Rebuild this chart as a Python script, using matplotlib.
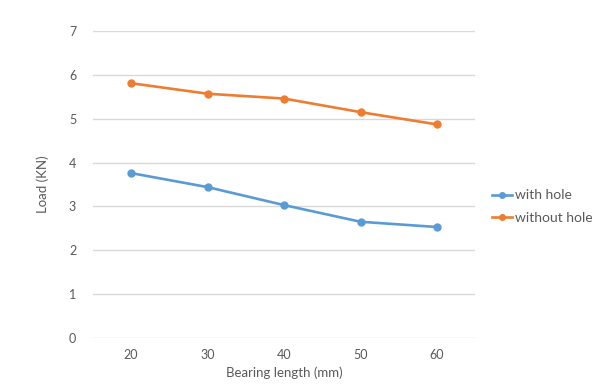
import matplotlib
matplotlib.use("Agg")
import matplotlib.pyplot as plt

categories = ["20", "30", "40", "50", "60"]
with_hole = [3.76, 3.44, 3.03, 2.65, 2.53]
without_hole = [5.81, 5.57, 5.46, 5.15, 4.87]
yticks = [0, 1, 2, 3, 4, 5, 6, 7]

plt.rcParams['font.family'] = ['Lato', 'DejaVu Sans']

fig = plt.figure(figsize=(6.07, 3.88), dpi=100)
ax = fig.add_axes([0.153, 0.129, 0.630, 0.791])

x = list(range(len(categories)))
ax.plot(x, with_hole, color='#5B9BD5', lw=1.9, marker='o', ms=5, label='with hole')
ax.plot(x, without_hole, color='#ED7D31', lw=1.9, marker='o', ms=5, label='without hole')

ax.set_xlim(-0.5, len(categories) - 0.5)
ax.set_ylim(0, 7)
ax.set_yticks(yticks)
ax.set_xticks(x)
ax.set_xticklabels(categories)
ax.yaxis.grid(True, color='#D9D9D9', lw=1)
ax.set_axisbelow(True)
for s in ax.spines.values():
    s.set_visible(False)
ax.tick_params(length=0, colors='#595959', labelsize=9)
ax.tick_params(axis='y', pad=12)
ax.tick_params(axis='x', pad=8)
ax.set_xlabel('Bearing length (mm)', color='#595959', fontsize=9.5, labelpad=4)
ax.set_ylabel('Load (KN)', color='#595959', fontsize=9.5, labelpad=14)

leg = ax.legend(loc='center left', bbox_to_anchor=(1.01, 0.428), frameon=False,
                fontsize=10, handlelength=1.5, handletextpad=0.2, labelspacing=0.75,
                labelcolor='#595959')
for h in leg.legend_handles:
    h.set_markersize(4)

fig.savefig('out.png', dpi=100)
